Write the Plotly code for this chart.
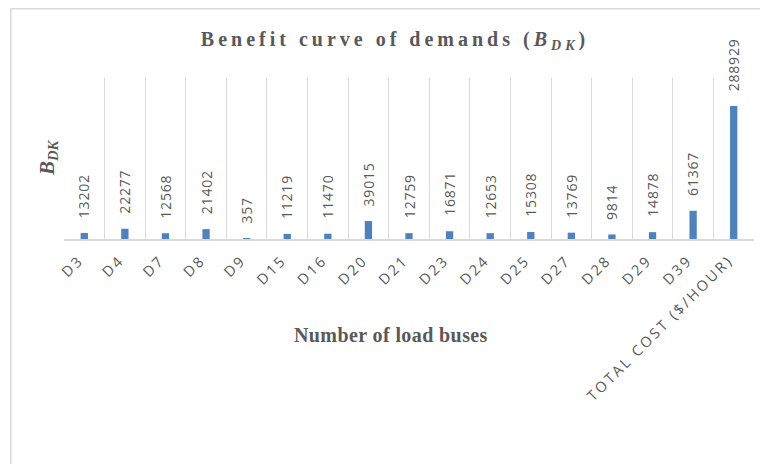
import plotly.graph_objects as go

categories = ["D3", "D4", "D7", "D8", "D9", "D15", "D16", "D20", "D21", "D23",
              "D24", "D25", "D27", "D28", "D29", "D39", "TOTAL COST ($/HOUR)"]
values = [13202, 22277, 12568, 21402, 357, 11219, 11470, 39015, 12759, 16871,
          12653, 15308, 13769, 9814, 14878, 61367, 288929]

GRAY = "#595959"
BAR = "#4F81BD"
LINE = "#D9D9D9"

OFF = 8  # default page body margin
W, H = 768 - OFF, 464 - OFF
# plot area in page pixels: x 64..754, y 78..239
PL, PR, PT, PB = 64, 754, 78, 239
L, T = PL - OFF, PT - OFF
R = W - (PR - OFF)
B = H - (PB - OFF)
PW, PH = W - L - R, H - T - B
N = len(categories)
SHIFT = 0.12  # label nudge (in categories) toward the left


def px(xp):
    return (xp - OFF - L) / PW


def py(yp):
    return (H - B - (yp - OFF)) / PH


fig = go.Figure()
# invisible helper traces to activate the gridline and label axes
fig.add_trace(go.Scatter(x=[0], y=[0], xaxis="x2", mode="markers",
                         marker=dict(opacity=0), hoverinfo="skip", showlegend=False))
fig.add_trace(go.Scatter(x=[0], y=[0], xaxis="x3", mode="markers",
                         marker=dict(opacity=0), hoverinfo="skip", showlegend=False))
fig.add_trace(go.Bar(x=categories, y=values, width=0.18,
                     marker=dict(color=BAR, line=dict(width=0)),
                     hoverinfo="x+y"))

for c, v in zip(categories, values):
    fig.add_annotation(x=c, y=v, text=f'<span style="letter-spacing:0.8px">{v}</span>',
                       textangle=-90, showarrow=False, xanchor="center",
                       yanchor="bottom", yshift=13,
                       font=dict(family="Open Sans", size=14, color=GRAY))

ticktext = [f'<span style="letter-spacing:2.5px">{c}</span>' for c in categories]

fig.update_layout(
    width=W, height=H,
    margin=dict(l=L, r=R, t=T, b=B, pad=0),
    paper_bgcolor="white", plot_bgcolor="white",
    showlegend=False,
    title=dict(text='<span style="letter-spacing:4px">Benefit curve of demands (<i>B<sub>DK</sub></i>)</span>',
               xref="container", yref="container", x=(395 - OFF) / W, y=1 - (39 - OFF) / H,
               xanchor="center", yanchor="middle",
               font=dict(family="Liberation Serif", size=20, color=GRAY, weight="bold")),
    xaxis=dict(type="category", showticklabels=False, showgrid=False,
               showline=True, linecolor=LINE, linewidth=2, ticks="",
               range=[-0.5, N - 0.5], fixedrange=True),
    xaxis2=dict(overlaying="x", type="linear", range=[-0.5, N - 0.5],
                tickmode="linear", tick0=-0.5, dtick=1, showticklabels=False,
                showgrid=True, gridcolor=LINE, gridwidth=1.2, zeroline=False,
                ticks="", fixedrange=True),
    xaxis3=dict(overlaying="x", type="linear", side="bottom",
                range=[-0.5 + SHIFT, N - 0.5 + SHIFT],
                tickmode="array", tickvals=list(range(N)), ticktext=ticktext,
                tickangle=-45, showgrid=False, zeroline=False, showline=False,
                ticks="outside", ticklen=6, tickcolor="rgba(0,0,0,0)",
                tickfont=dict(family="Open Sans", size=14.5, color=GRAY),
                fixedrange=True),
    yaxis=dict(range=[0, 350000], showgrid=False, showticklabels=False,
               zeroline=False, showline=False, ticks="", fixedrange=True),
    shapes=[
        dict(type="line", xref="paper", yref="paper",
             x0=px(10), x1=px(768 + 2), y0=py(8.8), y1=py(8.8),
             line=dict(color=LINE, width=1.6)),
        dict(type="line", xref="paper", yref="paper",
             x0=px(10.8), x1=px(10.8), y0=py(8), y1=py(470),
             line=dict(color=LINE, width=1.6)),
    ],
)

fig.add_annotation(text='<b><span style="letter-spacing:0.4px">Number of load buses</span></b>',
                   xref="paper", yref="paper",
                   x=px(391), y=py(335),
                   showarrow=False, xanchor="center", yanchor="middle",
                   font=dict(family="Liberation Serif", size=20, color=GRAY))
fig.add_annotation(text="<b><i>B<sub>DK</sub></i></b>", xref="paper", yref="paper",
                   x=px(48), y=py(158),
                   showarrow=False, textangle=-90, xanchor="center", yanchor="middle",
                   font=dict(family="Liberation Serif", size=21, color=GRAY))

fig.write_html("out.html")
